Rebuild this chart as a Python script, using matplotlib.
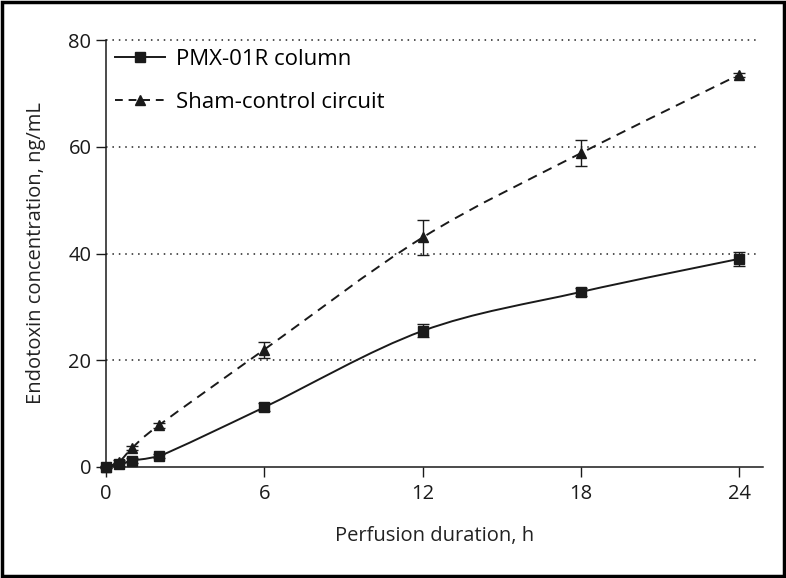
#!/usr/bin/env python3

import numpy as np
import matplotlib
matplotlib.use('Agg')
import matplotlib.pyplot as plt
from matplotlib.path import Path
from matplotlib.patches import PathPatch, Rectangle

plt.rcParams['font.family'] = ['Open Sans', 'DejaVu Sans']
plt.rcParams['font.size'] = 14

# ------- DATA ------- #
hours = [0, 0.5, 1, 2, 6, 12, 18, 24]
pmx = [0.0, 0.5, 1.2, 2.0, 11.2, 25.5, 32.8, 39.0]
pmx_err = [0.2, 0.3, 0.4, 0.4, 0.8, 1.2, 0.8, 1.3]
sham = [0.0, 1.0, 3.6, 7.8, 22.0, 43.0, 58.8, 73.5]
sham_err = [0.2, 0.3, 0.4, 0.4, 1.5, 3.2, 2.5, 0.4]

x_ticks = [0, 6, 12, 18, 24]
y_ticks = [0, 20, 40, 60, 80]


def smooth_path(xs, ys, tension=1/6):
    # Catmull-Rom as Bezier segments, control points kept inside each segment's y range
    pts = np.column_stack([np.asarray(xs, float), np.asarray(ys, float)])
    verts = [pts[0]]
    codes = [Path.MOVETO]
    n = len(pts)
    for i in range(n - 1):
        p0 = pts[max(i - 1, 0)]
        p1 = pts[i]
        p2 = pts[i + 1]
        p3 = pts[min(i + 2, n - 1)]
        c1 = p1 + (p2 - p0) * tension
        c2 = p2 - (p3 - p1) * tension
        lo, hi = min(p1[1], p2[1]), max(p1[1], p2[1])
        c1[1] = np.clip(c1[1], lo, hi)
        c2[1] = np.clip(c2[1], lo, hi)
        verts += [c1, c2, p2]
        codes += [Path.CURVE4] * 3
    return Path(verts, codes)


fig = plt.figure(figsize=(7.86, 5.78), dpi=100)
ax = fig.add_axes([106 / 786, 1 - 467 / 578, (763 - 106) / 786, (467 - 40) / 578])

# dotted reference lines
for yv in y_ticks[1:]:
    ax.plot([0, 24.75], [yv, yv], ls=(0, (1, 3.2)), c='#222222', lw=1.1, clip_on=False)

# curves
ax.add_patch(PathPatch(smooth_path(hours, pmx), fc='none', ec='#1a1a1a', lw=1.4, clip_on=False))
ax.add_patch(PathPatch(smooth_path(hours, sham), fc='none', ec='#1a1a1a', lw=1.4,
                       ls=(0, (5, 3.5)), clip_on=False))

ax.errorbar(hours, pmx, yerr=pmx_err, fmt='s', ms=7.5, c='#1a1a1a', ecolor='#1a1a1a',
            elinewidth=1, capsize=4, clip_on=False, zorder=4)
ax.errorbar(hours, sham, yerr=sham_err, fmt='^', ms=6.5, c='#1a1a1a', ecolor='#1a1a1a',
            elinewidth=1, capsize=4, clip_on=False, zorder=4)

# legend proxies
h1, = ax.plot([], [], '-s', c='#1a1a1a', lw=1.4, ms=6.5)
h2, = ax.plot([], [], ls=(0, (4, 3)), marker='^', c='#1a1a1a', lw=1.4, ms=6.5)
ax.legend([h1, h2], ['PMX-01R column', 'Sham-control circuit'], loc='upper left',
          bbox_to_anchor=(-0.01, 1.016), frameon=False, handlelength=2.25, handletextpad=0.5,
          labelspacing=0.98, fontsize=16, borderaxespad=0.3)

ax.set_xlim(0, 24.9)
ax.set_ylim(0, 80)
ax.set_xticks(x_ticks)
ax.set_yticks(y_ticks)
ax.spines['top'].set_visible(False)
ax.spines['right'].set_visible(False)
for s in ['left', 'bottom']:
    ax.spines[s].set_linewidth(1.1)
    ax.spines[s].set_color('#1a1a1a')
ax.tick_params(direction='out', length=7, width=1, colors='#1a1a1a', labelsize=14.5)
ax.tick_params(axis='x', pad=5)
ax.set_xlabel('Perfusion duration, h', fontsize=14.5, labelpad=16, color='#222222')
ax.set_ylabel('Endotoxin concentration, ng/mL', fontsize=14.5, labelpad=16, color='#222222')

# outer frame
fig.patches.append(Rectangle((0.002, 0.003), 0.995, 0.994, transform=fig.transFigure,
                             fill=False, ec='black', lw=2.5))

plt.savefig('out.png', dpi=100)
